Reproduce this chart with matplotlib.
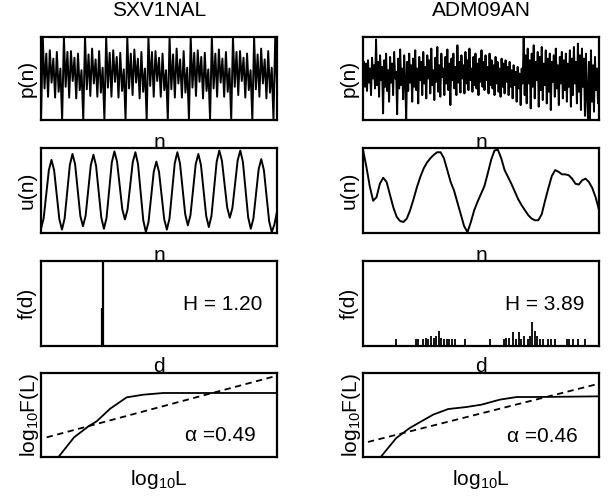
import numpy as np
import matplotlib
matplotlib.use('Agg')
import matplotlib.pyplot as plt

plt.rcParams['font.family'] = ['Liberation Sans', 'DejaVu Sans']
plt.rcParams['mathtext.fontset'] = 'custom'
plt.rcParams['mathtext.rm'] = 'Liberation Sans'
plt.rcParams['mathtext.it'] = 'Liberation Sans:italic'

names = ['SXV1NAL', 'ADM09AN']

# p(n), SXV1NAL: one spike per period, 11 periods
p_sxv = [
    0.00, 1.00, 0.38, 0.80, 0.28, 0.84, 0.45, 0.74, 0.27, 0.82, 0.34, 0.62,
    0.00, 1.00, 0.40, 0.82, 0.27, 0.83, 0.47, 0.75, 0.26, 0.80, 0.36, 0.60,
    0.00, 1.00, 0.37, 0.79, 0.29, 0.86, 0.44, 0.73, 0.28, 0.83, 0.33, 0.63,
    0.00, 1.00, 0.39, 0.81, 0.28, 0.84, 0.46, 0.76, 0.27, 0.81, 0.35, 0.61,
    0.00, 1.00, 0.38, 0.80, 0.30, 0.85, 0.45, 0.74, 0.26, 0.82, 0.34, 0.62,
    0.00, 1.00, 0.41, 0.82, 0.28, 0.83, 0.47, 0.75, 0.28, 0.80, 0.36, 0.60,
    0.00, 1.00, 0.37, 0.79, 0.27, 0.86, 0.44, 0.73, 0.27, 0.83, 0.33, 0.63,
    0.00, 1.00, 0.39, 0.81, 0.29, 0.84, 0.46, 0.76, 0.26, 0.81, 0.35, 0.61,
    0.00, 1.00, 0.38, 0.80, 0.28, 0.85, 0.45, 0.74, 0.28, 0.82, 0.34, 0.62,
    0.00, 1.00, 0.40, 0.82, 0.30, 0.83, 0.47, 0.75, 0.27, 0.80, 0.36, 0.60,
    0.00, 1.00, 0.37, 0.79, 0.28, 0.86, 0.44, 0.73, 0.26, 0.83, 0.33, 0.63,
    0.00, 1.00, 0.40,
]

# p(n), ADM09AN: noisy pitch-like series
p_adm = [
    0.55, 0.70, 0.40, 0.68, 0.35, 0.72, 0.45, 0.62, 0.30, 0.75, 0.50, 0.66, 0.38, 0.97, 0.42, 0.70, 0.28, 0.78, 0.48, 0.64,
    0.08, 0.72, 0.40, 0.80, 0.35, 0.60, 0.22, 0.76, 0.45, 0.68, 0.30, 0.82, 0.50, 0.58, 0.07, 0.74, 0.38, 0.85, 0.42, 0.62,
    0.25, 0.78, 0.48, 0.00, 0.70, 0.35, 0.80, 0.45, 0.66, 0.22, 0.74, 0.40, 0.84, 0.36, 0.62, 0.20, 0.76, 0.48, 0.70, 0.30,
    0.82, 0.44, 0.64, 0.26, 0.78, 0.50, 0.72, 0.32, 0.86, 0.42, 0.60, 0.24, 0.75, 0.46, 0.88, 0.34, 0.66, 0.28, 0.80, 0.52,
    0.62, 0.30, 0.76, 0.44, 0.85, 0.36, 0.68, 0.18, 0.74, 0.48, 0.80, 0.38, 0.64, 0.30, 0.90, 0.45, 0.70, 0.33, 0.78, 0.50,
    0.66, 0.32, 0.82, 0.44, 0.72, 0.36, 0.86, 0.48, 0.62, 0.34, 0.76, 0.42, 0.80, 0.38, 0.68, 0.30, 0.74, 0.46, 0.84, 0.40,
    0.70, 0.36, 0.78, 0.48, 0.64, 0.32, 0.80, 0.42, 0.72, 0.38, 0.66, 0.30, 0.76, 0.44, 0.70, 0.34, 0.62, 0.28, 0.74, 0.40,
    0.68, 0.32, 0.72, 0.46, 0.64, 0.30, 0.70, 0.40, 0.60, 0.26, 0.66, 0.42, 0.58, 0.22, 0.64, 0.38, 0.56, 0.18, 0.62, 0.44,
    1.00, 0.30, 0.78, 0.20, 0.86, 0.44, 0.72, 0.14, 0.80, 0.40, 0.90, 0.26, 0.70, 0.48, 0.82, 0.16, 0.76, 0.36, 0.88, 0.24,
    0.68, 0.42, 0.84, 0.20, 0.74, 0.34, 0.80, 0.12, 0.70, 0.46, 0.78, 0.28, 0.86, 0.38, 0.66, 0.18, 0.76, 0.44, 0.82, 0.26,
    0.72, 0.36, 0.80, 0.22, 0.68, 0.40, 0.84, 0.16, 0.74, 0.30, 0.88, 0.44, 0.70, 0.20, 0.92, 0.34, 0.78, 0.12, 0.86, 0.40,
    0.74, 0.05, 0.80, 0.30, 0.02, 0.70, 0.00, 0.84, 0.22, 0.66, 0.10, 0.76, 0.36, 0.62, 0.20, 0.55,
]

# u(n)
u_sxv = [
    0.05, 0.17, 0.455, 0.74, 0.86, 0.74, 0.45, 0.16,
    0.04, 0.17, 0.485, 0.80, 0.93, 0.81, 0.505, 0.20,
    0.08, 0.20, 0.50, 0.80, 0.92, 0.79, 0.485, 0.18,
    0.05, 0.18, 0.505, 0.83, 0.96, 0.84, 0.56, 0.28,
    0.16, 0.275, 0.555, 0.835, 0.95, 0.81, 0.48, 0.15,
    0.01, 0.13, 0.425, 0.72, 0.84, 0.72, 0.44, 0.16,
    0.04, 0.17, 0.495, 0.82, 0.95, 0.82, 0.52, 0.22,
    0.09, 0.21, 0.51, 0.81, 0.93, 0.80, 0.50, 0.20,
    0.07, 0.20, 0.52, 0.84, 0.97, 0.85, 0.575, 0.30,
    0.18, 0.295, 0.575, 0.855, 0.97, 0.835, 0.51, 0.185,
    0.05, 0.17, 0.46, 0.75, 0.87, 0.74, 0.44, 0.14,
    0.01, 0.10, 0.25,
]
u_adm = [
    0.98, 0.78, 0.55, 0.38, 0.42, 0.58, 0.65, 0.60, 0.45, 0.30,
    0.19, 0.14, 0.13, 0.17, 0.27, 0.40, 0.54, 0.66, 0.76, 0.83,
    0.88, 0.92, 0.95, 0.95, 0.88, 0.74, 0.60, 0.50, 0.36, 0.22,
    0.08, 0.01, 0.13, 0.27, 0.37, 0.46, 0.55, 0.70, 0.86, 0.97,
    0.98, 0.88, 0.74, 0.66, 0.58, 0.49, 0.40, 0.33, 0.27, 0.21,
    0.17, 0.15, 0.15, 0.22, 0.38, 0.53, 0.67, 0.74, 0.72, 0.69,
    0.69, 0.68, 0.64, 0.58, 0.57, 0.62, 0.64, 0.60, 0.53, 0.42,
    0.27,
]

# f(d) stems
d_sxv = [0.259, 0.263]
f_sxv = [0.45, 1.00]
d_adm = [0.141, 0.223, 0.235, 0.255, 0.266, 0.277, 0.290, 0.301, 0.311, 0.322, 0.332,
         0.344, 0.355, 0.366, 0.378, 0.389, 0.434, 0.537, 0.597, 0.608, 0.620, 0.636,
         0.648, 0.659, 0.670, 0.682, 0.699, 0.707, 0.717, 0.727, 0.738, 0.750, 0.761,
         0.785, 0.796, 0.813, 0.863, 0.874, 0.888, 0.912, 0.941]
f_adm = [0.08, 0.08, 0.08, 0.08, 0.10, 0.08, 0.12, 0.10, 0.12, 0.18, 0.10,
         0.08, 0.08, 0.08, 0.08, 0.08, 0.08, 0.08, 0.08, 0.10, 0.10, 0.17,
         0.08, 0.17, 0.08, 0.12, 0.08, 0.12, 0.28, 0.18, 0.12, 0.08, 0.08,
         0.08, 0.08, 0.08, 0.08, 0.08, 0.08, 0.08, 0.08]
H_vals = ['1.20', '3.89']

# DFA: log10 L vs log10 F(L), and linear fit
logL_sxv = [0.074, 0.140, 0.201, 0.236, 0.293, 0.363, 0.434, 0.519, 0.650, 1.000]
logF_sxv = [0.000, 0.234, 0.365, 0.425, 0.575, 0.710, 0.742, 0.762, 0.762, 0.762]
fitL_sxv = [0.024, 1.000]
fitF_sxv = [0.234, 0.968]
logL_adm = [0.075, 0.141, 0.198, 0.297, 0.361, 0.438, 0.502, 0.580, 0.651, 0.722, 1.000]
logF_adm = [0.000, 0.226, 0.345, 0.504, 0.571, 0.595, 0.623, 0.683, 0.714, 0.714, 0.722]
fitL_adm = [0.021, 1.000]
fitF_adm = [0.179, 0.873]
alpha_vals = ['0.49', '0.46']

W, Hh = 613, 497
cols = [41, 363]
rows = [(37, 120), (148, 233), (261, 346), (373, 457)]
fs = 15

fig = plt.figure(figsize=(W / 100, Hh / 100), dpi=100)
axes = []
for r, (top, bot) in enumerate(rows):
    line = []
    for c in cols:
        ax = fig.add_axes([c / W, 1 - bot / Hh, 236 / W, (bot - top) / Hh])
        ax.set_xticks([])
        ax.set_yticks([])
        for s in ax.spines.values():
            s.set_linewidth(1.6)
        line.append(ax)
    axes.append(line)

p_all = [p_sxv, p_adm]
u_all = [u_sxv, u_adm]
d_all = [(d_sxv, f_sxv), (d_adm, f_adm)]
dfa = [(logL_sxv, logF_sxv, fitL_sxv, fitF_sxv), (logL_adm, logF_adm, fitL_adm, fitF_adm)]

for c in range(2):
    ax = axes[0][c]
    ax.plot(np.arange(len(p_all[c])), p_all[c], color='k', lw=1.4)
    ax.set_xlim(0, len(p_all[c]) - 1)
    ax.set_ylim(0, 1)
    ax.set_title(names[c], fontsize=fs, pad=15)
    ax.set_ylabel('p(n)', fontsize=fs, labelpad=3)
    ax.set_xlabel('n', fontsize=fs, labelpad=9)

    ax = axes[1][c]
    ax.plot(np.arange(len(u_all[c])), u_all[c], color='k', lw=1.4)
    ax.set_xlim(0, len(u_all[c]) - 1)
    ax.set_ylim(0, 1)
    ax.set_ylabel('u(n)', fontsize=fs, labelpad=3)
    ax.set_xlabel('n', fontsize=fs, labelpad=9)

    ax = axes[2][c]
    dd, ff = d_all[c]
    ax.vlines(dd, 0, ff, color='k', lw=1.6 if c == 0 else 1.3)
    ax.set_xlim(0, 1)
    ax.set_ylim(0, 1)
    ax.text(0.77, 0.49, 'H = ' + H_vals[c], transform=ax.transAxes,
            ha='center', va='center', fontsize=fs)
    ax.set_ylabel('f(d)', fontsize=fs, labelpad=3)
    ax.set_xlabel('d', fontsize=fs, labelpad=8)

    ax = axes[3][c]
    lx, ly, fx, fy = dfa[c]
    ax.plot(lx, ly, color='k', lw=1.3)
    ax.plot(fx, fy, color='k', lw=1.3, dashes=(3.5, 2.5))
    ax.set_xlim(0, 1)
    ax.set_ylim(0, 1)
    ax.text(0.76, 0.26 if c == 0 else 0.24, '\u03b1 =' + alpha_vals[c], transform=ax.transAxes,
            ha='center', va='center', fontsize=fs)
    ax.set_ylabel(r'log$_{\mathrm{10}}$F(L)', fontsize=fs, labelpad=0)
    ax.set_xlabel(r'log$_{\mathrm{10}}$L', fontsize=fs, labelpad=8)

fig.savefig('out.png', dpi=100)
